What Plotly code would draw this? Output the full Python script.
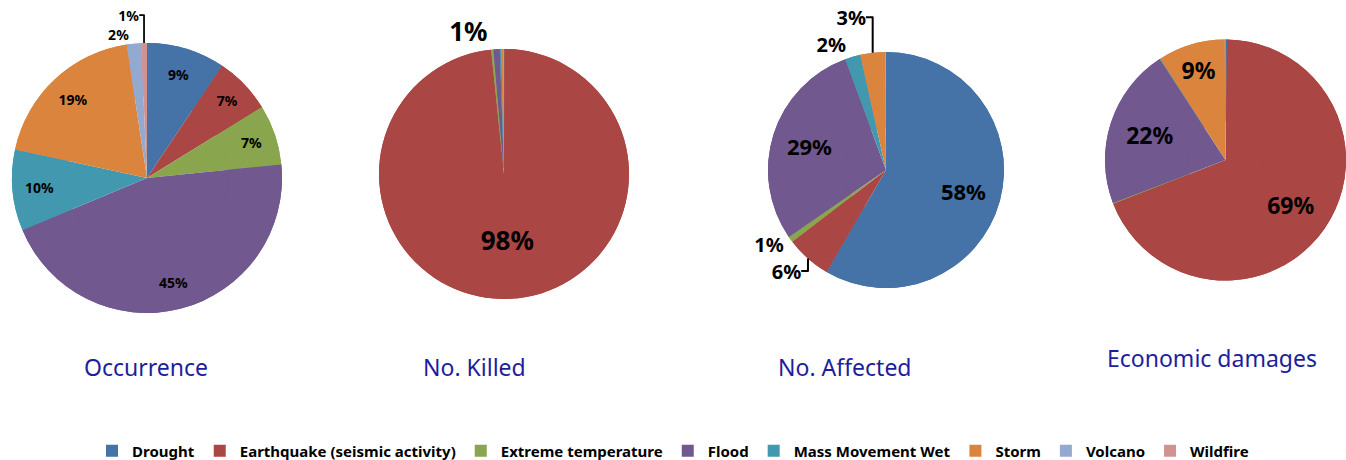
import plotly.graph_objects as go

categories = ["Drought", "Earthquake (seismic activity)", "Extreme temperature", "Flood",
              "Mass Movement Wet", "Storm", "Volcano", "Wildfire"]
colors = ["#4572A7", "#AA4643", "#89A54E", "#71588F", "#4198AF", "#DB843D", "#93A9CF", "#D19392"]

occurrence = [9.4, 6.8, 7.2, 45.3, 9.7, 19.2, 1.7, 0.7]
killed = [0.05, 98.3, 0.3, 0.8, 0.2, 0.3, 0.05, 0.0]
affected = [58.4, 6.2, 0.8, 29.0, 2.1, 3.4, 0.05, 0.05]
damages = [0.2, 68.9, 0.1, 21.6, 0.1, 9.0, 0.05, 0.05]

titles = ["Occurrence", "No. Killed", "No. Affected", "Economic damages"]

W, H = 1346, 460

def box(cx, cy, r):
    return dict(x=[max(0, (cx - r) / W), min(1, (cx + r) / W)],
                y=[1 - (cy + r) / H, 1 - (cy - r) / H])

I, O, N = "inside", "outside", "none"
# values, domain, text positions, inside font size, outside font size, hole (pushes inside labels outward)
pies = [
    (occurrence, box(147, 178, 135), [I, I, I, I, I, I, O, O], 14, 14, 0.6),
    (killed, box(504, 174, 125), [N, I, N, O, N, N, N, N], 26, 26, 0.05),
    (affected, box(886, 170, 118), [I, O, O, I, O, O, N, N], 22, 20, 0.36),
    (damages, dict(x=[1105 / W, 1.0], y=[1 - 287 / H, 1 - 33 / H]), [N, I, N, I, N, I, N, N], 23, 23, 0.32),
]

fig = go.Figure()
for i, (vals, dom, tpos, fs, fso, hole) in enumerate(pies):
    # full pie (the slices)
    fig.add_trace(go.Pie(
        labels=categories, values=vals, sort=False, direction="clockwise", rotation=0,
        domain=dom, marker=dict(colors=colors, line=dict(width=0)),
        textinfo="none", showlegend=(i == 0), hoverinfo="label+percent",
    ))
    # ring overlay carrying the percentage labels
    fig.add_trace(go.Pie(
        labels=categories, values=vals, sort=False, direction="clockwise", rotation=0,
        domain=dom, hole=hole, marker=dict(colors=colors, line=dict(width=0)),
        texttemplate="%{percent:.0%}", textposition=tpos,
        insidetextorientation="horizontal",
        insidetextfont=dict(family="Noto Sans", size=fs, color="black", weight="bold"),
        outsidetextfont=dict(family="Noto Sans", size=fso, color="black", weight="bold"),
        showlegend=False, hoverinfo="skip",
    ))

title_pos = [(146, 367), (474, 367), (845, 367), (1212, 358)]
for t, (x, y) in zip(titles, title_pos):
    fig.add_annotation(text=t, x=x / W, y=1 - y / H, xref="paper", yref="paper",
                       showarrow=False, xanchor="center", yanchor="middle",
                       font=dict(family="Noto Sans", size=23, color="#1E1E9C"))

fig.update_layout(
    width=W, height=H, margin=dict(l=0, r=0, t=0, b=0, autoexpand=False),
    paper_bgcolor="white", plot_bgcolor="white",
    legend=dict(orientation="h", x=0.5, xanchor="center", y=1 - 451 / H, yanchor="middle",
                font=dict(family="Noto Sans", size=15, color="black", weight="bold"),
                itemwidth=30, traceorder="normal"),
)

fig.write_html("out.html", config={"displayModeBar": False},
               post_script="document.body.style.margin='0';")
